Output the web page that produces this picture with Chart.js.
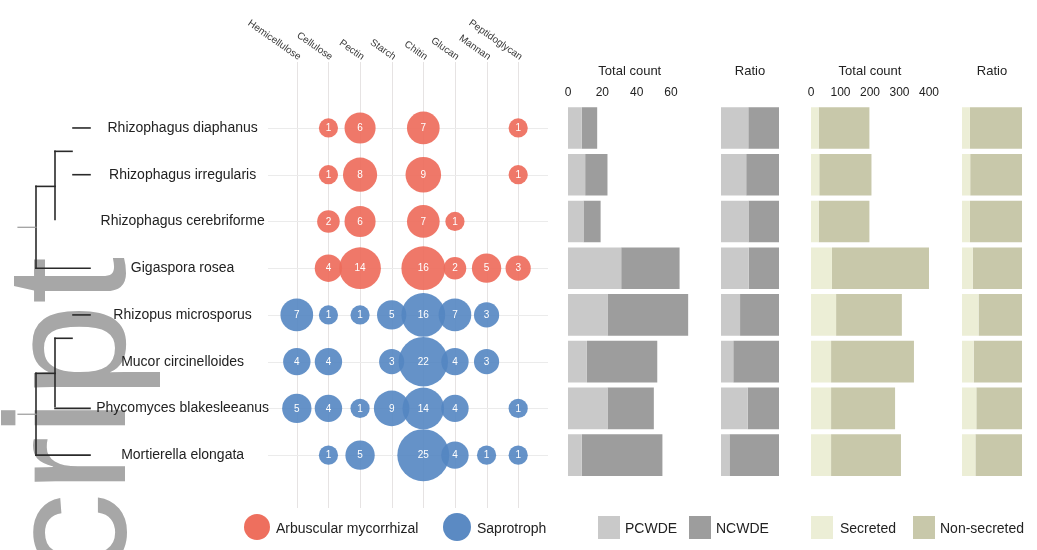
<!DOCTYPE html>
<html>
<head>
<meta charset="utf-8">
<script src="https://cdn.jsdelivr.net/npm/chart.js@4.4.1/dist/chart.umd.min.js"></script>
<style>
  html, body { margin: 0; padding: 0; background: #fff; }
  body { width: 1037px; height: 550px; position: relative; overflow: hidden;
         font-family: "Liberation Sans", Arial, sans-serif; color: #222; }
  canvas { position: absolute; top: 0; }
  .key { position: absolute; }
  .key-text { position: absolute; font-size: 14px; line-height: 16px; top: 520px; color: #222; white-space: nowrap; }
</style>
</head>
<body>
<canvas id="matrix" width="560" height="550" style="left:0px"></canvas>
<canvas id="cwdeCount" width="150" height="550" style="left:555px"></canvas>
<canvas id="cwdeRatio" width="90" height="550" style="left:705px"></canvas>
<canvas id="secCount" width="150" height="550" style="left:795px"></canvas>
<canvas id="secRatio" width="87" height="550" style="left:950px"></canvas>

<div class="key" style="left:244px;top:514px;width:26px;height:26px;border-radius:50%;background:#ee6f5e"></div>
<div class="key-text" style="left:276px">Arbuscular mycorrhizal</div>
<div class="key" style="left:443px;top:513px;width:28px;height:28px;border-radius:50%;background:#5b8ac3"></div>
<div class="key-text" style="left:477px">Saprotroph</div>
<div class="key" style="left:598px;top:516px;width:22px;height:23px;background:#c9c9c9"></div>
<div class="key-text" style="left:625px">PCWDE</div>
<div class="key" style="left:689px;top:516px;width:22px;height:23px;background:#9d9d9d"></div>
<div class="key-text" style="left:716px">NCWDE</div>
<div class="key" style="left:811px;top:516px;width:22px;height:23px;background:#eceed6"></div>
<div class="key-text" style="left:840px">Secreted</div>
<div class="key" style="left:913px;top:516px;width:22px;height:23px;background:#c8c8aa"></div>
<div class="key-text" style="left:940px">Non-secreted</div>

<script>
// ---- data ----
const species = [
  'Rhizophagus diaphanus',
  'Rhizophagus irregularis',
  'Rhizophagus cerebriforme',
  'Gigaspora rosea',
  'Rhizopus microsporus',
  'Mucor circinelloides',
  'Phycomyces blakesleeanus',
  'Mortierella elongata'
];
const lifestyle = ['amf', 'amf', 'amf', 'amf', 'sap', 'sap', 'sap', 'sap'];
const substrates = ['Hemicellulose', 'Cellulose', 'Pectin', 'Starch', 'Chitin', 'Glucan', 'Mannan', 'Peptidoglycan'];

// gene counts per species (rows) and substrate (columns)
const familyCounts = [
  [0, 1, 6, 0, 7, 0, 0, 1],
  [0, 1, 8, 0, 9, 0, 0, 1],
  [0, 2, 6, 0, 7, 1, 0, 0],
  [0, 4, 14, 0, 16, 2, 5, 3],
  [7, 1, 1, 5, 16, 7, 3, 0],
  [4, 4, 0, 3, 22, 4, 3, 0],
  [5, 4, 1, 9, 14, 4, 0, 1],
  [0, 1, 5, 0, 25, 4, 1, 1]
];

const pcwde = [8, 10, 9, 31, 23, 11, 23, 8];
const ncwde = [9, 13, 10, 34, 47, 41, 27, 47];
const secreted = [26, 28, 26, 71, 85, 68, 68, 68];
const nonSecreted = [172, 177, 172, 329, 223, 281, 217, 237];

const cwdeTicks = [0, 20, 40, 60];
const secretedTicks = [0, 100, 200, 300, 400];

// ---- shared geometry ----
const AREA_TOP = 104.6;
const AREA_BOTTOM_PAD = 550 - 478.5;
const FONT = '"Liberation Sans", Arial, sans-serif';
const RED = 'rgba(238,108,92,0.92)';
const BLUE = 'rgba(84,134,194,0.9)';

function bubbleRadius(n) { return 5.5 + 4.1 * Math.sqrt(n); }

function bubblePoints(group) {
  const pts = [];
  familyCounts.forEach((row, i) => {
    if (lifestyle[i] !== group) return;
    row.forEach((n, j) => {
      if (n > 0) pts.push({ x: substrates[j], y: species[i], n: n });
    });
  });
  return pts;
}

// rotated "script" lettering behind the tree
const watermarkPlugin = {
  id: 'watermark',
  beforeDraw(chart) {
    const ctx = chart.ctx;
    ctx.save();
    ctx.fillStyle = '#a7a7a7';
    ctx.font = '170px ' + FONT;
    ctx.textBaseline = 'alphabetic';
    ctx.textAlign = 'left';
    ctx.translate(125, 663);
    ctx.rotate(-Math.PI / 2);
    ctx.fillText('script', 0, 0);
    ctx.restore();
  }
};

// light grid through bubble rows and columns
const gridPlugin = {
  id: 'matrixGrid',
  beforeDatasetsDraw(chart) {
    const ctx = chart.ctx, xs = chart.scales.x, ys = chart.scales.y;
    ctx.save();
    ctx.lineWidth = 1;
    ctx.strokeStyle = '#e6e3e3';
    substrates.forEach((s, j) => {
      const x = Math.round(xs.getPixelForValue(j)) + 0.5;
      ctx.beginPath(); ctx.moveTo(x, 62); ctx.lineTo(x, 508); ctx.stroke();
    });
    ctx.strokeStyle = '#ebebeb';
    species.forEach((s, i) => {
      const y = Math.round(ys.getPixelForValue(i)) + 0.5;
      ctx.beginPath(); ctx.moveTo(268, y); ctx.lineTo(548, y); ctx.stroke();
    });
    ctx.restore();
  }
};

// cladogram on the left
const treePlugin = {
  id: 'tree',
  afterDraw(chart) {
    const ctx = chart.ctx, ys = chart.scales.y;
    const y = i => ys.getPixelForValue(i);
    const seg = (x1, y1, x2, y2) => { ctx.beginPath(); ctx.moveTo(x1, y1); ctx.lineTo(x2, y2); ctx.stroke(); };
    ctx.save();
    ctx.lineCap = 'square';
    [0, 4].forEach(b => {
      const mid12 = (y(b) + y(b + 1)) / 2;
      const mid123 = (mid12 + y(b + 2)) / 2;
      const root = (mid123 + y(b + 3)) / 2;
      ctx.strokeStyle = '#2a2a2a';
      ctx.lineWidth = 1.6;
      seg(73, y(b), 90, y(b));
      if (b === 0) seg(73, y(b + 1), 90, y(b + 1));
      seg(55, mid12, 72, mid12);
      seg(55, mid12, 55, y(b + 2) - 2);
      if (b === 4) seg(55, y(b + 2), 90, y(b + 2));
      seg(36, mid123, 55, mid123);
      seg(36, mid123, 36, y(b + 3));
      seg(36, y(b + 3), 90, y(b + 3));
      ctx.strokeStyle = '#9a9a9a';
      ctx.lineWidth = 1.2;
      seg(18, root, 36, root);
    });
    ctx.restore();
  }
};

// slanted substrate names above the columns
const columnLabelPlugin = {
  id: 'columnLabels',
  afterDraw(chart) {
    const ctx = chart.ctx, xs = chart.scales.x;
    ctx.save();
    ctx.fillStyle = '#3a3a3a';
    ctx.font = '10px ' + FONT;
    ctx.textAlign = 'right';
    ctx.textBaseline = 'middle';
    substrates.forEach((s, j) => {
      const x = xs.getPixelForValue(j);
      ctx.save();
      ctx.translate(x + 3, 58);
      ctx.rotate(35 * Math.PI / 180);
      ctx.fillText(s, 0, 0);
      ctx.restore();
    });
    ctx.restore();
  }
};

// counts printed inside the bubbles
const bubbleTextPlugin = {
  id: 'bubbleText',
  afterDatasetsDraw(chart) {
    const ctx = chart.ctx;
    ctx.save();
    ctx.fillStyle = '#ffffff';
    ctx.font = '10px ' + FONT;
    ctx.textAlign = 'center';
    ctx.textBaseline = 'middle';
    chart.data.datasets.forEach((ds, di) => {
      chart.getDatasetMeta(di).data.forEach((el, k) => {
        ctx.fillText(String(ds.data[k].n), el.x, el.y + 0.5);
      });
    });
    ctx.restore();
  }
};

new Chart(document.getElementById('matrix'), {
  type: 'bubble',
  data: {
    datasets: [
      { label: 'Arbuscular mycorrhizal', data: bubblePoints('amf'), backgroundColor: RED, borderWidth: 0 },
      { label: 'Saprotroph', data: bubblePoints('sap'), backgroundColor: BLUE, borderWidth: 0 }
    ]
  },
  options: {
    responsive: false,
    animation: false,
    events: [],
    clip: false,
    layout: { padding: { left: 0, right: 23, top: AREA_TOP, bottom: AREA_BOTTOM_PAD } },
    elements: { point: { radius: ctx => bubbleRadius(ctx.raw ? ctx.raw.n : 1), hoverRadius: 0 } },
    plugins: { legend: { display: false }, tooltip: { enabled: false } },
    scales: {
      x: { type: 'category', labels: substrates, offset: true, display: false },
      y: {
        type: 'category', labels: species, offset: true, position: 'left',
        grid: { display: false, drawTicks: false },
        border: { display: false },
        ticks: { crossAlign: 'center', padding: 12, color: '#222', font: { family: FONT, size: 14 }, autoSkip: false },
        afterFit(scale) { scale.width = 281; }
      }
    }
  },
  plugins: [watermarkPlugin, gridPlugin, treePlugin, columnLabelPlugin, bubbleTextPlugin]
});

// stacked horizontal bars for one panel
function stackPanel(id, a, b, colors, max, ticks, title, pad) {
  new Chart(document.getElementById(id), {
    type: 'bar',
    data: {
      labels: species,
      datasets: [
        { data: a, backgroundColor: colors[0], borderWidth: 0, barPercentage: 0.89, categoryPercentage: 1 },
        { data: b, backgroundColor: colors[1], borderWidth: 0, barPercentage: 0.89, categoryPercentage: 1 }
      ]
    },
    options: {
      indexAxis: 'y',
      responsive: false,
      animation: false,
      events: [],
      layout: { padding: { left: pad[0], right: pad[1], top: AREA_TOP - 45, bottom: AREA_BOTTOM_PAD } },
      plugins: { legend: { display: false }, tooltip: { enabled: false } },
      scales: {
        y: { stacked: true, display: false },
        x: {
          stacked: true, position: 'top', min: 0, max: max,
          grid: { display: false, drawTicks: false },
          border: { display: false },
          title: { display: true, text: title, color: '#222', font: { family: FONT, size: 13 }, padding: { top: 4, bottom: 2 } },
          ticks: {
            display: !!ticks, padding: 5, color: '#222', font: { family: FONT, size: 12 },
            maxRotation: 0, autoSkip: false
          },
          afterBuildTicks(scale) { if (ticks) scale.ticks = ticks.map(v => ({ value: v })); },
          afterFit(scale) { scale.height = 45; }
        }
      }
    }
  });
}

const pct = (part, other) => part.map((v, i) => v / (v + other[i]) * 100);

const GREYS = ['#c9c9c9', '#9d9d9d'];
const KHAKI = ['#eceed6', '#c8c8aa'];

stackPanel('cwdeCount', pcwde, ncwde, GREYS, 72, cwdeTicks, 'Total count', [13, 13.4]);
stackPanel('cwdeRatio', pct(pcwde, ncwde), pct(ncwde, pcwde), GREYS, 100, null, 'Ratio', [16, 16]);
stackPanel('secCount', secreted, nonSecreted, KHAKI, 400, secretedTicks, 'Total count', [16, 16]);
stackPanel('secRatio', pct(secreted, nonSecreted), pct(nonSecreted, secreted), KHAKI, 100, null, 'Ratio', [12, 15]);
</script>
</body>
</html>
